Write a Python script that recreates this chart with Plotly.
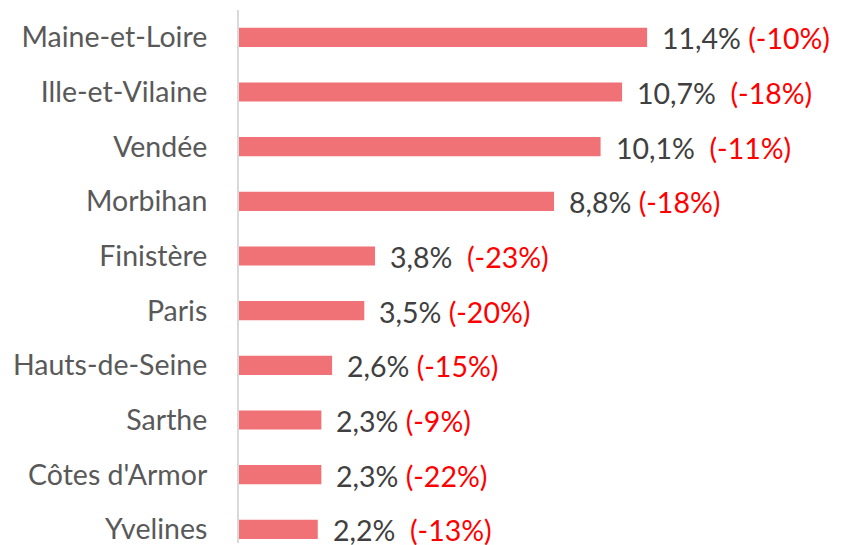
import plotly.graph_objects as go

# Departments, share of total (%) and year-on-year change (%)
departments = ["Maine-et-Loire", "Ille-et-Vilaine", "Vendée", "Morbihan", "Finistère",
               "Paris", "Hauts-de-Seine", "Sarthe", "Côtes d'Armor", "Yvelines"]
shares = [11.4, 10.7, 10.1, 8.8, 3.8, 3.5, 2.6, 2.3, 2.3, 2.2]
changes = [-10, -18, -11, -18, -23, -20, -15, -9, -22, -13]
gaps = [1, 2, 2, 1, 2, 1, 1, 1, 1, 2]

BAR_COLOR = "#F07176"
FONT = "Lato"

fig = go.Figure(
    go.Bar(
        x=shares,
        y=departments,
        orientation="h",
        marker=dict(color=BAR_COLOR, line=dict(width=0)),
        width=0.35,
        hoverinfo="skip",
    )
)

for dep, val, chg, g in zip(departments, shares, changes, gaps):
    value_txt = f"{val:.1f}".replace(".", ",") + "%"
    fig.add_annotation(
        x=val, y=dep, xref="x", yref="y",
        text=(f"<span style='color:#404040'>{value_txt}</span>" + "&nbsp;" * g +
              f"<span style='color:#FF0000'>({chg}%)</span>"),
        showarrow=False, xanchor="left", yanchor="middle",
        xshift=14, yshift=-1, borderpad=0,
        font=dict(family=FONT, size=28.5),
    )

fig.update_layout(
    width=843, height=545,
    margin=dict(l=239, r=0, t=10, b=0),
    paper_bgcolor="white", plot_bgcolor="white",
    showlegend=False,
    xaxis=dict(range=[0, 604 / 35.8], visible=False, fixedrange=True),
    yaxis=dict(
        type="category",
        range=[9.25, -0.5],
        showline=True, linecolor="#D9D9D9", linewidth=2,
        showgrid=False, zeroline=False, ticks="",
        ticklabelstandoff=24,
        tickfont=dict(family=FONT, size=28.5, color="#595959"),
    ),
)

fig.write_html("out.html")
